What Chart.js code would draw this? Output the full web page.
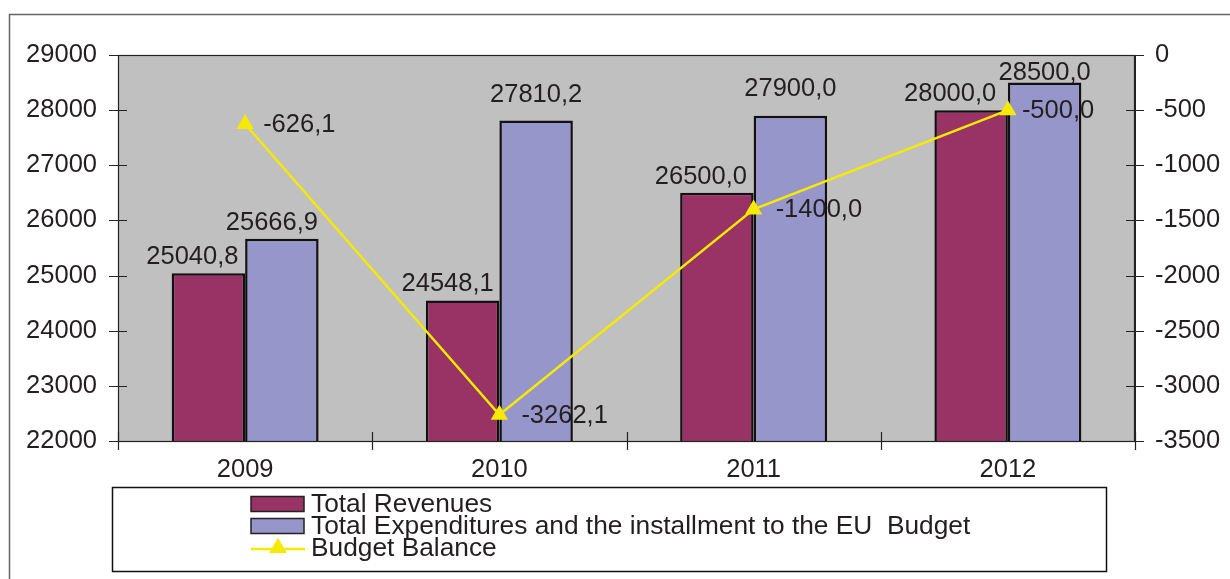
<!DOCTYPE html>
<html>
<head>
<meta charset="utf-8">
<title>Budget</title>
<script src="https://cdn.jsdelivr.net/npm/chart.js@4.4.1/dist/chart.umd.min.js"></script>
<style>
  html, body { margin: 0; padding: 0; background: #ffffff; }
  #wrap { width: 1230px; height: 579px; }
</style>
</head>
<body>
<div id="wrap"><canvas id="chart" width="1230" height="579"></canvas></div>
<script>
// Years and series values
const years = ['2009', '2010', '2011', '2012'];
const revenues = [25040.8, 24548.1, 26500.0, 28000.0];
const expenditures = [25666.9, 27810.2, 27900.0, 28500.0];
const balance = [-626.1, -3262.1, -1400.0, -500.0];

const seriesNames = [
  'Total Revenues',
  'Total Expenditures and the installment to the EU  Budget',
  'Budget Balance'
];

// Left axis (revenues / expenditures) and right axis (balance) ranges
const leftAxisRange = [22000, 29000, 1000];
const rightAxisRange = [-3500, 0, 500];

// Hand-placed label nudges in pixels: [dx, gap above bar] / [dx from point]
const revLabelNudge = [[-16, 9], [-15, 9], [-16, 9], [-21, 9]];
const expLabelNudge = [[-10, 9], [0, 19], [0, 20], [0, 3]];
const balLabelNudge = [18, 22, 22, 14];

const FONT = "'Liberation Sans', Arial, Helvetica, sans-serif";
const TEXT = '#231f20';
const PLOT_BG = '#c0c0c0';
const REV_COL = '#993366';
const EXP_COL = '#9696ca';
const BAL_COL = '#f5ea00';
const EDGE = '#111111';

const fmt = v => v.toFixed(1).replace('.', ',');

const decor = {
  id: 'decor',
  beforeDraw(chart) {
    const { ctx, chartArea: a } = chart;
    ctx.save();
    ctx.fillStyle = '#ffffff';
    ctx.fillRect(0, 0, chart.width, chart.height);
    ctx.fillStyle = PLOT_BG;
    ctx.fillRect(a.left, a.top, a.right - a.left, a.bottom - a.top);
    ctx.restore();
  },
  afterDatasetsDraw(chart) {
    const { ctx, chartArea: a, scales } = chart;
    ctx.save();

    // plot frame
    ctx.strokeStyle = '#222';
    ctx.lineWidth = 1.2;
    ctx.strokeRect(a.left + 0.5, a.top + 0.5, a.right - a.left - 1, a.bottom - a.top);

    // crossing tick marks
    ctx.beginPath();
    scales.y.ticks.forEach(t => {
      const py = Math.round(scales.y.getPixelForValue(t.value)) + 0.5;
      ctx.moveTo(a.left - 9, py); ctx.lineTo(a.left + 9, py);
    });
    scales.y2.ticks.forEach(t => {
      const py = Math.round(scales.y2.getPixelForValue(t.value)) + 0.5;
      ctx.moveTo(a.right - 9, py); ctx.lineTo(a.right + 9, py);
    });
    const xs = scales.x;
    const n = years.length;
    for (let i = 0; i <= n; i++) {
      let px;
      if (i === 0) px = a.left;
      else if (i === n) px = a.right;
      else px = (xs.getPixelForValue(i - 1) + xs.getPixelForValue(i)) / 2;
      px = Math.round(px) + 0.5;
      ctx.moveTo(px, a.bottom - 9); ctx.lineTo(px, a.bottom + 9);
    }
    ctx.stroke();

    // value labels
    ctx.fillStyle = TEXT;
    ctx.font = '25.5px ' + FONT;
    ctx.textBaseline = 'alphabetic';
    ctx.textAlign = 'center';
    const revMeta = chart.getDatasetMeta(1);
    const expMeta = chart.getDatasetMeta(2);
    revMeta.data.forEach((bar, i) => {
      ctx.fillText(fmt(revenues[i]), bar.x + revLabelNudge[i][0], bar.y - revLabelNudge[i][1]);
    });
    expMeta.data.forEach((bar, i) => {
      ctx.fillText(fmt(expenditures[i]), bar.x + expLabelNudge[i][0], bar.y - expLabelNudge[i][1]);
    });
    ctx.textAlign = 'left';
    ctx.textBaseline = 'middle';
    chart.getDatasetMeta(0).data.forEach((pt, i) => {
      ctx.fillText(fmt(balance[i]), pt.x + balLabelNudge[i], pt.y + 1);
    });

    // legend
    const lx = 112, ly = 487, lw = 994, lh = 84;
    ctx.fillStyle = '#ffffff';
    ctx.fillRect(lx, ly, lw, lh);
    ctx.strokeStyle = '#111';
    ctx.lineWidth = 1.5;
    ctx.strokeRect(lx + 0.5, ly + 0.5, lw, lh);

    const sx = 251, sw = 53, sh = 15;
    const rows = [504, 526, 548];
    const ds = chart.data.datasets;
    [ds[1], ds[2]].forEach((d, k) => {
      ctx.fillStyle = d.backgroundColor;
      ctx.fillRect(sx, rows[k] - sh / 2, sw, sh);
      ctx.strokeStyle = '#222';
      ctx.lineWidth = 1.5;
      ctx.strokeRect(sx, rows[k] - sh / 2, sw, sh);
    });
    ctx.strokeStyle = ds[0].borderColor;
    ctx.lineWidth = 2.5;
    ctx.beginPath();
    ctx.moveTo(sx, rows[2] + 1); ctx.lineTo(sx + sw + 1, rows[2] + 1);
    ctx.stroke();
    ctx.fillStyle = ds[0].backgroundColor;
    Chart.helpers.drawPoint(ctx, { pointStyle: 'triangle', radius: 10, borderWidth: 0 }, sx + 27, rows[2]);
    ctx.fill();

    ctx.fillStyle = TEXT;
    ctx.font = '26.3px ' + FONT;
    ctx.textAlign = 'left';
    ctx.textBaseline = 'middle';
    [ds[1].label, ds[2].label, ds[0].label].forEach((t, k) => {
      ctx.fillText(t, 311, rows[k] + 1);
    });

    // outer frame
    ctx.strokeStyle = '#666';
    ctx.lineWidth = 1.5;
    ctx.strokeRect(9.5, 14.5, 1400, 800);
    ctx.restore();
  }
};

const tickFont = { family: FONT, size: 25.5 };

new Chart(document.getElementById('chart'), {
  type: 'bar',
  data: {
    labels: years,
    datasets: [
      {
        type: 'line',
        label: seriesNames[2],
        data: balance,
        yAxisID: 'y2',
        borderColor: BAL_COL,
        backgroundColor: BAL_COL,
        borderWidth: 2.5,
        tension: 0,
        pointStyle: 'triangle',
        pointRadius: 10,
        pointBorderWidth: 0,
        order: 0
      },
      {
        label: seriesNames[0],
        data: revenues,
        yAxisID: 'y',
        backgroundColor: REV_COL,
        borderColor: EDGE,
        borderWidth: 2.5,
        borderSkipped: false,
        categoryPercentage: 0.578,
        barPercentage: 1,
        order: 1
      },
      {
        label: seriesNames[1],
        data: expenditures,
        yAxisID: 'y',
        backgroundColor: EXP_COL,
        borderColor: EDGE,
        borderWidth: 2.5,
        borderSkipped: false,
        categoryPercentage: 0.578,
        barPercentage: 1,
        order: 2
      }
    ]
  },
  options: {
    responsive: false,
    animation: false,
    layout: { padding: { top: 55, left: 0, right: 0, bottom: 0 } },
    plugins: { legend: { display: false }, tooltip: { enabled: false } },
    scales: {
      x: {
        offset: true,
        grid: { display: false, drawTicks: false },
        border: { display: true, color: '#222', width: 1 },
        ticks: { font: tickFont, color: TEXT, padding: 14, maxRotation: 0 },
        afterFit(s) { s.height = 138; }
      },
      y: {
        position: 'left',
        min: leftAxisRange[0],
        max: leftAxisRange[1],
        grid: { display: false, drawTicks: false },
        border: { display: true, color: '#222', width: 1 },
        ticks: { stepSize: leftAxisRange[2], font: tickFont, color: TEXT, padding: 21, callback: v => String(v) },
        afterFit(s) { s.width = 118; }
      },
      y2: {
        position: 'right',
        min: rightAxisRange[0],
        max: rightAxisRange[1],
        grid: { display: false, drawTicks: false },
        border: { display: true, color: '#222', width: 1 },
        ticks: { stepSize: rightAxisRange[2], font: tickFont, color: TEXT, padding: 20, callback: v => String(v) },
        afterFit(s) { s.width = 95; }
      }
    }
  },
  plugins: [decor]
});
</script>
</body>
</html>
